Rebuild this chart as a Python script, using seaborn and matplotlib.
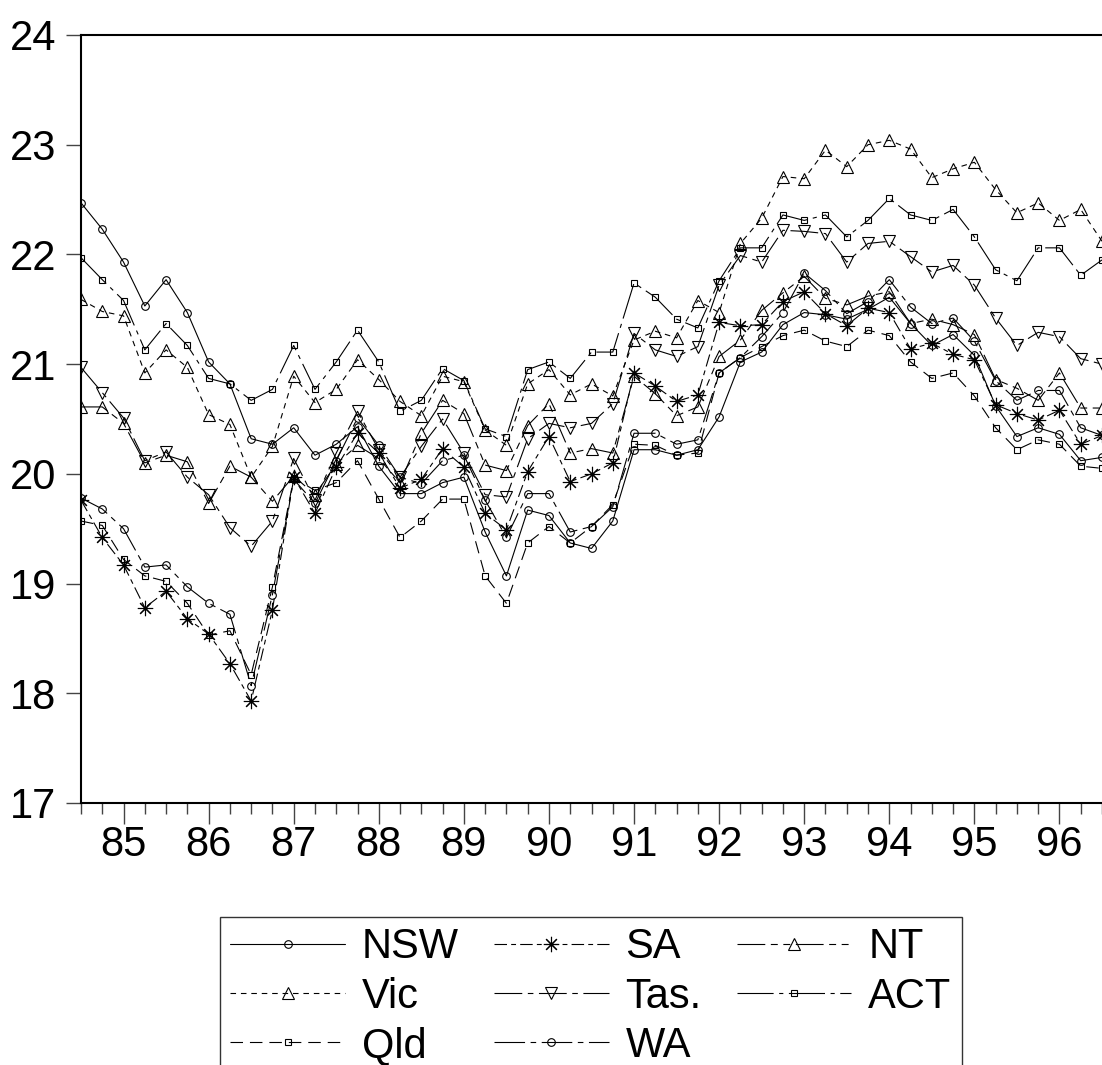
import numpy as np
import pandas as pd
import seaborn as sns
import matplotlib.pyplot as plt

# quarterly observations, 1984Q3 .. 1996Q3 (last one sits just past the right edge)
quarters = pd.period_range("1984Q3", "1996Q3", freq="Q")
year_labels = ["85", "86", "87", "88", "89", "90", "91", "92", "93", "94", "95", "96"]

nsw = [22.47, 22.23, 21.93, 21.53, 21.77, 21.47, 21.02, 20.82, 20.32, 20.27, 20.42, 20.17, 20.27, 20.43,
       20.07, 19.82, 19.82, 19.92, 19.97, 19.47, 19.07, 19.67, 19.62, 19.37, 19.32, 19.57,
       20.22, 20.22, 20.17, 20.22, 20.52, 21.02, 21.11, 21.36, 21.47, 21.45, 21.41, 21.50, 21.61,
       21.37, 21.17, 21.27, 21.08, 20.62, 20.34, 20.42, 20.36, 20.12, 20.15]
sa = [19.76, 19.42, 19.17, 18.78, 18.93, 18.68, 18.54, 18.27, 17.93, 18.76, 19.97, 19.64, 20.06, 20.37,
      20.19, 19.87, 19.95, 20.23, 20.06, 19.64, 19.49, 20.02, 20.34, 19.93, 20.00, 20.10,
      20.92, 20.80, 20.66, 20.72, 21.38, 21.35, 21.36, 21.57, 21.66, 21.46, 21.35, 21.51, 21.47,
      21.14, 21.19, 21.09, 21.04, 20.63, 20.55, 20.49, 20.58, 20.27, 20.35]
nt = [20.61, 20.61, 20.46, 20.10, 20.17, 20.11, 19.73, 20.07, 19.97, 19.75, 19.98, 19.81, 20.09, 20.26,
      20.14, 19.92, 20.37, 20.67, 20.55, 20.08, 20.03, 20.44, 20.64, 20.19, 20.23, 20.19,
      20.89, 20.73, 20.53, 20.61, 21.07, 21.22, 21.49, 21.65, 21.80, 21.60, 21.54, 21.62, 21.66,
      21.37, 21.41, 21.36, 21.27, 20.86, 20.78, 20.67, 20.92, 20.60, 20.60]
vic = [21.59, 21.48, 21.44, 20.92, 21.13, 20.97, 20.54, 20.45, 19.97, 20.25, 20.89, 20.65, 20.77, 21.04,
       20.86, 20.66, 20.53, 20.89, 20.84, 20.40, 20.26, 20.82, 20.95, 20.72, 20.82, 20.71,
       21.22, 21.30, 21.24, 21.58, 21.47, 22.10, 22.33, 22.71, 22.69, 22.95, 22.80, 23.00, 23.04,
       22.96, 22.70, 22.78, 22.84, 22.59, 22.38, 22.47, 22.31, 22.41, 22.12]
tas = [20.97, 20.74, 20.51, 20.12, 20.20, 19.97, 19.81, 19.51, 19.34, 19.57, 20.14, 19.76, 20.19, 20.57,
       20.22, 19.97, 20.25, 20.50, 20.19, 19.81, 19.79, 20.32, 20.46, 20.42, 20.46, 20.64,
       21.28, 21.13, 21.07, 21.16, 21.72, 21.99, 21.93, 22.22, 22.21, 22.19, 21.93, 22.10, 22.12,
       21.98, 21.84, 21.90, 21.72, 21.42, 21.17, 21.29, 21.25, 21.05, 21.00]
act = [21.97, 21.77, 21.58, 21.13, 21.37, 21.17, 20.87, 20.82, 20.67, 20.77, 21.17, 20.77, 21.02, 21.31,
       21.02, 20.57, 20.67, 20.96, 20.85, 20.41, 20.34, 20.95, 21.02, 20.87, 21.11, 21.11,
       21.74, 21.61, 21.41, 21.33, 21.76, 22.06, 22.06, 22.36, 22.31, 22.36, 22.16, 22.31, 22.51,
       22.36, 22.31, 22.41, 22.16, 21.86, 21.76, 22.06, 22.06, 21.81, 21.95]
qld = [19.57, 19.53, 19.22, 19.07, 19.02, 18.82, 18.53, 18.57, 18.17, 18.97, 19.96, 19.85, 19.92, 20.12,
       19.77, 19.42, 19.57, 19.77, 19.77, 19.07, 18.82, 19.37, 19.52, 19.37, 19.52, 19.72,
       20.27, 20.26, 20.17, 20.19, 20.92, 21.06, 21.16, 21.26, 21.31, 21.21, 21.16, 21.31, 21.26,
       21.02, 20.87, 20.92, 20.71, 20.42, 20.22, 20.31, 20.27, 20.07, 20.05]
wa = [19.78, 19.68, 19.50, 19.15, 19.17, 18.97, 18.82, 18.72, 18.07, 18.90, 19.95, 19.73, 20.12, 20.51,
      20.26, 19.97, 19.91, 20.12, 20.17, 19.76, 19.42, 19.82, 19.82, 19.47, 19.52, 19.70,
      20.37, 20.37, 20.27, 20.31, 20.92, 21.06, 21.25, 21.47, 21.83, 21.67, 21.46, 21.57, 21.77,
      21.52, 21.37, 21.42, 21.21, 20.85, 20.67, 20.76, 20.76, 20.42, 20.35]

df = pd.DataFrame({"t": np.arange(len(quarters)), "NSW": nsw, "SA": sa, "NT": nt, "Vic": vic,
                   "Tas.": tas, "ACT": act, "Qld": qld, "WA": wa})

# line pattern + marker for each state (EViews-like black & white styles)
styles = {
    "NSW": dict(marker="o", ms=5.5, ls="-"),
    "SA": dict(marker=(8, 2, 0), ms=11, ls=(0, (9, 3, 3.5, 3))),
    "NT": dict(marker="^", ms=9, ls=(0, (20, 4, 5, 4, 5, 4))),
    "Vic": dict(marker="^", ms=9, ls=(0, (4, 3.5))),
    "Tas.": dict(marker="v", ms=9, ls=(0, (20, 4, 4, 4))),
    "ACT": dict(marker="s", ms=5, ls=(0, (26, 4, 3, 4))),
    "Qld": dict(marker="s", ms=5, ls=(0, (9, 5))),
    "WA": dict(marker="o", ms=5.5, ls=(0, (22, 4, 4, 4))),
}

sns.set_style("white")
plt.rcParams["font.family"] = ["Liberation Sans", "DejaVu Sans"]
plt.rcParams["lines.scale_dashes"] = False
plt.rcParams["text.color"] = "black"
plt.rcParams["xtick.labelcolor"] = "black"
plt.rcParams["ytick.labelcolor"] = "black"

W, H = 1102, 1065
fig = plt.figure(figsize=(W / 100, H / 100), dpi=100)
ax = fig.add_axes([81 / W, 1 - 803 / H, 1 - 81 / W, (803 - 35) / H])

handles = {}
for name, st in styles.items():
    sns.lineplot(data=df, x="t", y=name, ax=ax, color="black", lw=0.8,
                 marker=st["marker"], markersize=st["ms"], markerfacecolor="none",
                 markeredgecolor="black", markeredgewidth=0.8, linestyle=st["ls"],
                 errorbar=None, legend=False)
    handles[name] = ax.lines[-1]

ax.set_xlim(0, 47.68)
ax.set_ylim(17, 24)
ax.set_xlabel("")
ax.set_ylabel("")

q1_pos = [i for i, q in enumerate(quarters) if q.quarter == 1]
ax.set_xticks(q1_pos)
ax.set_xticklabels(year_labels)
ax.set_xticks(np.arange(len(quarters)), minor=True)
ax.set_yticks(range(17, 25))

ax.tick_params(axis="y", direction="out", length=11, width=1, color="#444",
               labelsize=30, labelcolor="black", pad=7, left=True)
ax.tick_params(axis="x", which="major", direction="out", length=15, width=1,
               color="#444", labelsize=30, labelcolor="black", pad=1, bottom=True)
ax.tick_params(axis="x", which="minor", direction="out", length=8, width=1,
               color="#444", bottom=True)

for side in ["left", "bottom", "top"]:
    ax.spines[side].set_linewidth(1.5)
    ax.spines[side].set_color("black")
ax.spines["right"].set_visible(False)

order = ["NSW", "Vic", "Qld", "SA", "Tas.", "WA", "NT", "ACT"]
leg = fig.legend([handles[k] for k in order], order, ncol=3, loc="upper left",
                 bbox_to_anchor=(220 / W, 1 - 917 / H), bbox_transform=fig.transFigure,
                 fontsize=30, frameon=True, fancybox=False, edgecolor="#333",
                 framealpha=1, handlelength=2.75, handletextpad=0.4,
                 columnspacing=0.85, borderpad=0.25, labelspacing=0.22,
                 borderaxespad=0)
leg.get_frame().set_linewidth(1.0)
for txt in leg.get_texts():
    txt.set_color("black")

fig.savefig("out.png", dpi=100)
